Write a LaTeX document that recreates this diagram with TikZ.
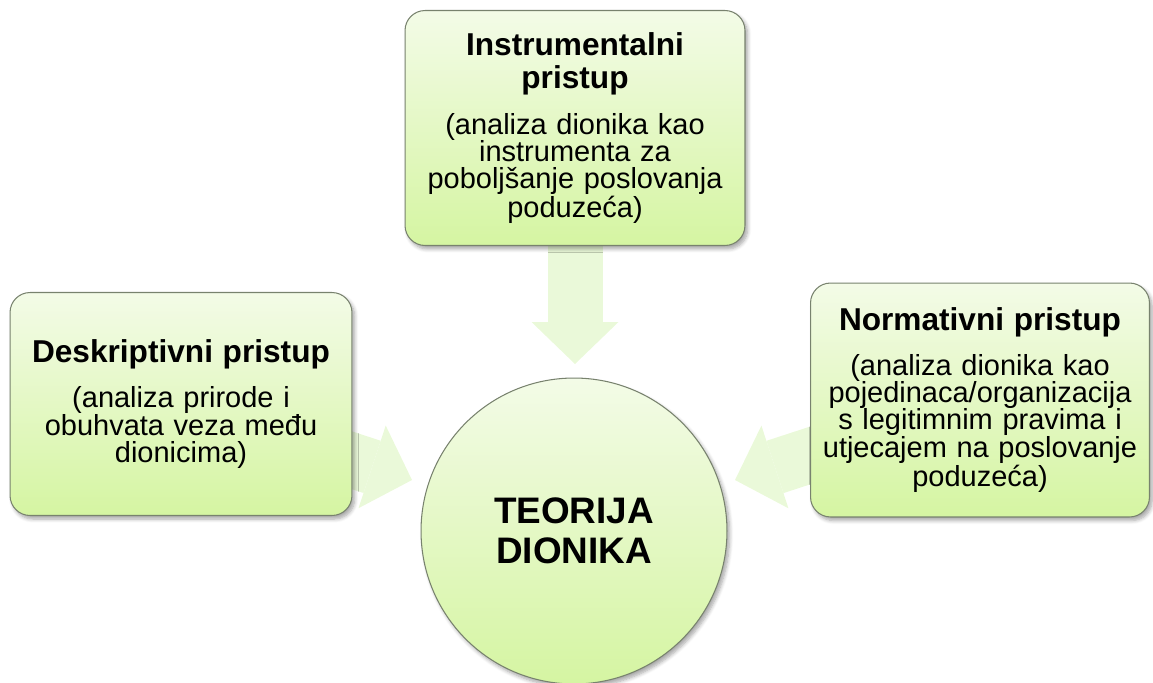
\documentclass[tikz,border=0pt]{standalone}
\usepackage{fontspec}
\setmainfont{Liberation Sans}
\usetikzlibrary{positioning, arrows.meta, shadows.blur, backgrounds}

\definecolor{fillTop}{RGB}{243,251,231}
\definecolor{fillBottom}{RGB}{213,245,162}
\definecolor{arrowFill}{RGB}{234,249,217}
\definecolor{edgeGray}{RGB}{120,130,110}

\newcommand{\boxhead}[1]{{\fontsize{18}{19}\selectfont\bfseries #1\par}\vspace{9pt}}

\tikzset{
	approach/.style={rectangle, rounded corners=0.4cm, draw=edgeGray, line width=0.6pt,
		top color=fillTop, bottom color=fillBottom, text width=6.4cm, align=center,
		inner sep=0pt, font=\fontsize{16.5}{15.4}\selectfont,
		blur shadow={shadow xshift=1.5pt, shadow yshift=-2pt, shadow opacity=35, shadow blur steps=6}},
	theory/.style={circle, draw=edgeGray, line width=0.6pt, top color=fillTop,
		bottom color=fillBottom, minimum size=6.12cm, inner sep=0pt,
		blur shadow={shadow xshift=1.5pt, shadow yshift=-2pt, shadow opacity=35, shadow blur steps=6}},
	blockarrow/.style={draw=arrowFill, line width=1.1cm,
		-{Triangle[width=1.74cm, length=0.84cm, line width=0pt]}}
}

\begin{document}
\begin{tikzpicture}[x=0.02cm, y=-0.02cm]

			\useasboundingbox (0,0) rectangle (1153,683);

			\node (instr) at (575,128) [approach, minimum width=6.8cm, minimum height=4.7cm]
			{\boxhead{Instrumentalni\\pristup}(analiza dionika kao\\instrumenta za\\poboljšanje poslovanja\\poduzeća)};

			\node (deskr) at (181,404) [approach, minimum width=6.84cm, minimum height=4.46cm]
			{\boxhead{Deskriptivni pristup}(analiza prirode i\\obuhvata veza među\\dionicima)};

			\node (norm) at (980,400) [approach, minimum width=6.78cm, minimum height=4.68cm]
			{\boxhead{Normativni pristup}(analiza dionika kao\\pojedinaca/organizacija\\s legitimnim pravima i\\utjecajem na poslovanje\\poduzeća)};

			\node (teorija) at (574,531) [theory, label={[font=\fontsize{21}{22.8}\selectfont\bfseries,
			align=center]center:TEORIJA\\DIONIKA}]{};

			\coordinate (instrTip) at (575,364);
			\coordinate (deskrTip) at (412,480);
			\coordinate (normTip) at (735,480);

			\begin{scope}[on background layer]
			\draw[blockarrow] (instr.center) -- (instrTip);
			\draw[blockarrow] (deskr.center) -- (deskrTip);
			\draw[blockarrow] (norm.center) -- (normTip);
			\end{scope}

\end{tikzpicture}
\end{document}
